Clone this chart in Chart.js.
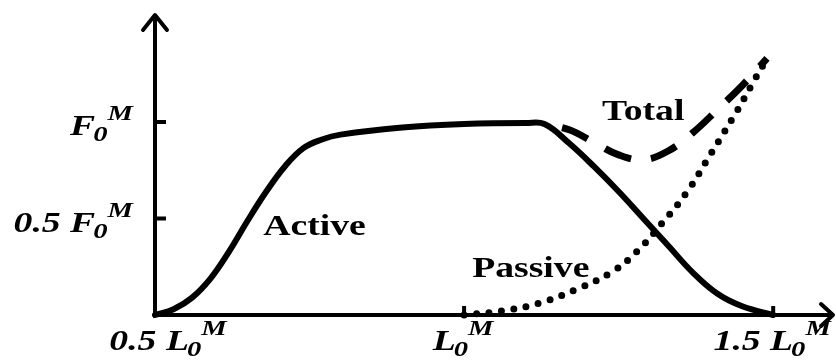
<!DOCTYPE html>
<html lang="en">
<head>
  <meta charset="UTF-8">
  <title>Muscle force-length curve</title>
  <style>
  body {
    margin: 0;
    background: #fff;
    overflow: hidden;
  }
  #chart {
    display: block;
  }
  </style>
  <script src="https://cdn.jsdelivr.net/npm/chart.js"></script>
</head>
<body>
  <canvas id="chart" width="836" height="362"></canvas>

  <script>
    // Normalised fibre length (x) and normalised force (y)
    const activeX = [0.50, 0.53, 0.56, 0.59, 0.62, 0.65, 0.68, 0.71, 0.74, 0.77, 0.80, 0.90, 1.00, 1.10, 1.13, 1.17, 1.21, 1.25, 1.29, 1.33, 1.37, 1.41, 1.45, 1.50];
    const activeY = [0.00, 0.03, 0.09, 0.19, 0.33, 0.49, 0.64, 0.77, 0.865, 0.91, 0.935, 0.972, 0.99, 0.995, 0.99, 0.89, 0.77, 0.64, 0.50, 0.36, 0.22, 0.11, 0.045, 0.00];

    const passiveX = [1.00, 1.06, 1.12, 1.18, 1.24, 1.28, 1.32, 1.36, 1.40, 1.44, 1.47, 1.49];
    const passiveY = [0.00, 0.02, 0.06, 0.13, 0.225, 0.33, 0.475, 0.635, 0.84, 1.05, 1.22, 1.33];

    const totalX = [1.13, 1.17, 1.21, 1.25, 1.29, 1.33, 1.37, 1.41, 1.45, 1.49];
    const totalY = [0.99, 0.96, 0.895, 0.83, 0.805, 0.85, 0.945, 1.065, 1.19, 1.33];

    const xTickValues = [0.5, 1.0, 1.5];
    const xTickLabels = ['0.5 L', 'L', '1.5 L'];
    const yTickValues = [0.5, 1.0];
    const yTickLabels = ['0.5 F', 'F'];
    const curveNames = ['Active', 'Total', 'Passive'];

    const toPoints = (xs, ys) => xs.map((x, i) => ({ x: x, y: ys[i] }));

    // where each curve name sits (left edge, baseline), in data units
    const namePositions = [
      { x: 0.675, y: 0.415 },
      { x: 1.223, y: 1.010 },
      { x: 1.013, y: 0.197 }
    ];

    const STRETCH = 1.3; // lettering is drawn a bit wide

    function stretchedText(ctx, text, x, y, font) {
      ctx.font = font;
      const w = ctx.measureText(text).width * STRETCH;
      ctx.save();
      ctx.translate(x, y);
      ctx.scale(STRETCH, 1);
      ctx.fillText(text, 0, 0);
      ctx.restore();
      return w;
    }

    // main text + subscript 0 + superscript M
    const mainFont = 'italic bold 29px "Liberation Serif", serif';
    const smallFont = 'italic bold 22px "Liberation Serif", serif';
    const nameFont = 'bold 29px "Liberation Serif", serif';

    function labelWidth(ctx, text) {
      ctx.font = mainFont;
      let w = ctx.measureText(text).width * STRETCH;
      ctx.font = smallFont;
      w += ctx.measureText('0').width * STRETCH;
      w += ctx.measureText('M').width * STRETCH;
      return w;
    }

    function drawLabel(ctx, text, x, y) {
      let cx = x;
      cx += stretchedText(ctx, text, cx, y, mainFont);
      cx += stretchedText(ctx, '0', cx - 2, y + 6, smallFont) - 2;
      stretchedText(ctx, 'M', cx, y - 15, smallFont);
    }

    const axesPlugin = {
      id: 'axes',
      beforeDatasetsDraw(chart) {
        const ctx = chart.ctx;
        const xs = chart.scales.x;
        const ys = chart.scales.y;
        const x0 = xs.getPixelForValue(0.5);
        const y0 = ys.getPixelForValue(0);
        const top = chart.chartArea.top - 1;
        const right = chart.chartArea.right - 2;

        ctx.save();
        ctx.strokeStyle = '#000';
        ctx.fillStyle = '#000';
        ctx.lineWidth = 4;
        ctx.lineCap = 'butt';
        ctx.lineJoin = 'round';

        // axis lines
        ctx.beginPath();
        ctx.moveTo(x0, y0 + 2);
        ctx.lineTo(x0, top + 2);
        ctx.moveTo(x0 - 2, y0);
        ctx.lineTo(right - 2, y0);
        ctx.stroke();

        // arrow heads
        ctx.lineCap = 'round';
        ctx.beginPath();
        ctx.moveTo(x0 - 12, top + 15);
        ctx.lineTo(x0, top);
        ctx.lineTo(x0 + 12, top + 15);
        ctx.moveTo(right - 12, y0 - 11);
        ctx.lineTo(right, y0);
        ctx.lineTo(right - 12, y0 + 11);
        ctx.stroke();

        // tick marks
        ctx.lineCap = 'butt';
        ctx.beginPath();
        yTickValues.forEach(v => {
          const py = ys.getPixelForValue(v);
          ctx.moveTo(x0, py);
          ctx.lineTo(x0 + 11, py);
        });
        xTickValues.slice(1).forEach(v => {
          const px = xs.getPixelForValue(v);
          ctx.moveTo(px, y0);
          ctx.lineTo(px, y0 - 9);
        });
        ctx.stroke();

        // tick labels
        ctx.textBaseline = 'alphabetic';
        ctx.textAlign = 'left';
        xTickValues.forEach((v, i) => {
          const w = labelWidth(ctx, xTickLabels[i]);
          let px = xs.getPixelForValue(v) - w / 2;
          if (i === 0) px += 14;
          drawLabel(ctx, xTickLabels[i], px, y0 + 35);
        });
        yTickValues.forEach((v, i) => {
          const w = labelWidth(ctx, yTickLabels[i]);
          const py = ys.getPixelForValue(v);
          drawLabel(ctx, yTickLabels[i], x0 - 20 - w, py + 13);
        });

        // curve names
        curveNames.forEach((name, i) => {
          const p = namePositions[i];
          stretchedText(ctx, name, xs.getPixelForValue(p.x), ys.getPixelForValue(p.y), nameFont);
        });
        ctx.restore();
      }
    };

    function drawChart() {
      new Chart(document.getElementById('chart'), {
        type: 'line',
        data: {
          datasets: [
            {
              label: 'Active',
              data: toPoints(activeX, activeY),
              borderColor: '#000',
              borderWidth: 6,
              borderCapStyle: 'round',
              pointRadius: 0,
              tension: 0.4,
              clip: false
            },
            {
              label: 'Total',
              data: toPoints(totalX, totalY),
              borderColor: '#000',
              borderWidth: 7,
              borderDash: [28, 20],
              borderDashOffset: 30,
              pointRadius: 0,
              tension: 0.4,
              clip: false
            },
            {
              label: 'Passive',
              data: toPoints(passiveX, passiveY),
              borderColor: '#000',
              borderWidth: 7,
              borderDash: [0, 12.5],
              borderCapStyle: 'round',
              pointRadius: 0,
              tension: 0.4,
              clip: false
            }
          ]
        },
        options: {
          responsive: false,
          animation: false,
          layout: { padding: { left: 155, right: 1, top: 16, bottom: 47 } },
          plugins: {
            legend: { display: false },
            tooltip: { enabled: false }
          },
          scales: {
            x: { type: 'linear', min: 0.5, max: 1.6, display: false },
            y: { min: 0, max: 1.55, display: false }
          }
        },
        plugins: [axesPlugin]
      });
    }

    // make sure the serif faces are ready before the canvas text is drawn
    Promise.all([mainFont, smallFont, nameFont].map(f => document.fonts.load(f)))
      .then(drawChart, drawChart);
  </script>
</body>
</html>
